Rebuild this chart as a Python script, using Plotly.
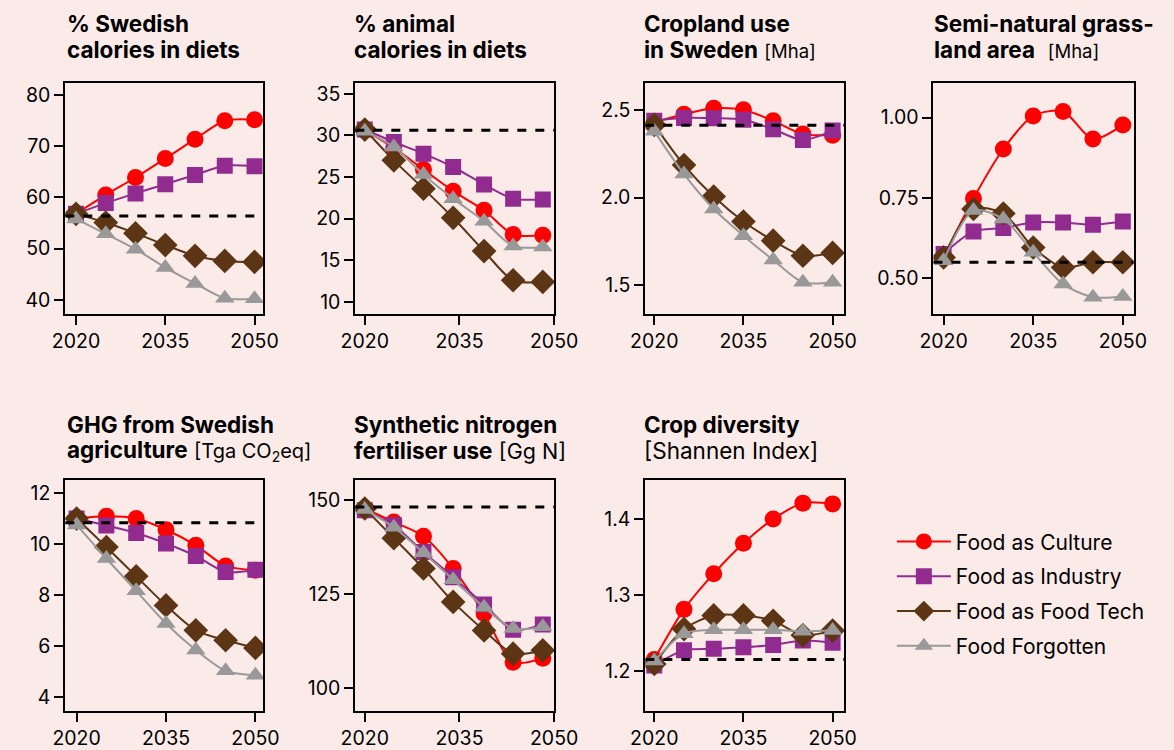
import plotly.graph_objects as go

W, H = 1174, 750
BG = "#FBEBE8"

YEARS = [2020, 2025, 2030, 2035, 2040, 2045, 2050]
YEARS_COL2 = [2020, 2024.6, 2029.3, 2034.0, 2038.9, 2043.5, 2048.2]

SCENARIOS = ["Food as Culture", "Food as Industry", "Food as Food Tech", "Food Forgotten"]
COLORS = ["#FF0000", "#922B8F", "#5C3515", "#999999"]
SYMBOLS = ["circle", "square", "diamond", "triangle-up"]
SIZES = [17, 16, 19, 17]

# % Swedish calories in diets
swedish_culture = [56.8, 60.5, 63.9, 67.6, 71.4, 75.0, 75.2]
swedish_industry = [56.8, 58.9, 60.8, 62.6, 64.4, 66.2, 66.1]
swedish_tech = [56.8, 55.1, 53.0, 50.7, 48.6, 47.6, 47.4]
swedish_forgotten = [55.8, 52.9, 49.9, 46.3, 43.2, 40.3, 40.2]
swedish_base = 56.4

# % animal calories in diets
animal_culture = [30.6, 28.5, 25.9, 23.3, 21.0, 18.1, 18.0]
animal_industry = [30.7, 29.2, 27.8, 26.2, 24.1, 22.4, 22.3]
animal_tech = [30.7, 27.0, 23.6, 20.1, 16.1, 12.6, 12.4]
animal_forgotten = [30.5, 28.6, 25.3, 22.4, 19.7, 16.7, 16.6]
animal_base = 30.6

# Cropland use in Sweden [Mha]
cropland_culture = [2.43, 2.477, 2.511, 2.502, 2.439, 2.363, 2.357]
cropland_industry = [2.44, 2.455, 2.454, 2.445, 2.391, 2.329, 2.384]
cropland_tech = [2.416, 2.186, 2.006, 1.863, 1.753, 1.667, 1.683]
cropland_forgotten = [2.38, 2.134, 1.934, 1.782, 1.643, 1.515, 1.515]
cropland_base = 2.414

# Semi-natural grassland area [Mha]
grass_culture = [0.565, 0.748, 0.902, 1.005, 1.019, 0.933, 0.977]
grass_industry = [0.575, 0.645, 0.656, 0.673, 0.673, 0.666, 0.676]
grass_tech = [0.564, 0.715, 0.701, 0.595, 0.533, 0.549, 0.549]
grass_forgotten = [0.554, 0.710, 0.684, 0.580, 0.481, 0.440, 0.442]
grass_base = 0.549

# GHG from Swedish agriculture [Tga CO2eq]
ghg_culture = [11.0, 11.09, 11.0, 10.56, 9.95, 9.14, 8.97]
ghg_industry = [11.0, 10.73, 10.43, 10.02, 9.53, 8.90, 8.99]
ghg_tech = [11.0, 9.88, 8.73, 7.59, 6.61, 6.22, 5.92]
ghg_forgotten = [10.75, 9.43, 8.16, 6.88, 5.84, 5.02, 4.85]
ghg_base = 10.84

# Synthetic nitrogen fertiliser use [Gg N]
nitro_culture = [147.8, 144.2, 140.4, 131.8, 119.8, 106.8, 107.9]
nitro_industry = [147.3, 143.3, 136.2, 129.5, 122.2, 115.5, 116.9]
nitro_tech = [147.8, 139.9, 131.8, 122.9, 115.3, 109.1, 110.0]
nitro_forgotten = [147.5, 142.8, 136.0, 128.8, 121.5, 115.8, 116.3]
nitro_base = 148.2

# Crop diversity [Shannen Index]
div_culture = [1.215, 1.281, 1.328, 1.368, 1.400, 1.421, 1.420]
div_industry = [1.207, 1.227, 1.229, 1.231, 1.234, 1.240, 1.237]
div_tech = [1.209, 1.255, 1.273, 1.273, 1.266, 1.247, 1.253]
div_forgotten = [1.213, 1.249, 1.254, 1.254, 1.254, 1.252, 1.253]
div_base = 1.215

X_TICKS = [2020, 2035, 2050]

panels = [
    dict(x=YEARS, series=[swedish_culture, swedish_industry, swedish_tech, swedish_forgotten],
         base=swedish_base, yr=[37.3, 82.4], xr=[2018.2, 2051.5], yt=[40, 50, 60, 70, 80], fmt="d",
         col=0, row=0, t1="<b>% Swedish</b>", t2="<b>calories in diets</b>"),
    dict(x=YEARS_COL2, series=[animal_culture, animal_industry, animal_tech, animal_forgotten],
         base=animal_base, yr=[8.6, 36.3], xr=[2018.5, 2050.05], yt=[10, 15, 20, 25, 30, 35], fmt="d",
         col=1, row=0, t1="<b>% animal</b>", t2="<b>calories in diets</b>"),
    dict(x=YEARS, series=[cropland_culture, cropland_industry, cropland_tech, cropland_forgotten],
         base=cropland_base, yr=[1.336, 2.656], xr=[2018.5, 2052.0], yt=[1.5, 2.0, 2.5], fmt=".1f",
         col=2, row=0, t1="<b>Cropland use</b>",
         t2="<b>in Sweden</b> <span style='font-size:18.5px'>[Mha]</span>"),
    dict(x=YEARS, series=[grass_culture, grass_industry, grass_tech, grass_forgotten],
         base=grass_base, yr=[0.389, 1.108], xr=[2018.3, 2051.8], yt=[0.5, 0.75, 1.0], fmt=".2f",
         col=3, row=0, t1="<b>Semi-natural grass-</b>",
         t2="<b>land area</b>  <span style='font-size:18.5px'>[Mha]</span>"),
    dict(x=YEARS, series=[ghg_culture, ghg_industry, ghg_tech, ghg_forgotten],
         base=ghg_base, yr=[3.44, 12.5], xr=[2018.1, 2051.35], yt=[4, 6, 8, 10, 12], fmt="d",
         col=0, row=1, t1="<b>GHG from Swedish</b>",
         t2="<b>agriculture</b> <span style='font-size:20px'>[Tga CO<sub>2</sub>eq]</span>"),
    dict(x=YEARS_COL2, series=[nitro_culture, nitro_industry, nitro_tech, nitro_forgotten],
         base=nitro_base, yr=[93.8, 155.3], xr=[2018.5, 2050.05], yt=[100, 125, 150], fmt="d",
         col=1, row=1, t1="<b>Synthetic nitrogen</b>",
         t2="<b>fertiliser use</b> <span style='font-size:21.5px'>[Gg N]</span>"),
    dict(x=YEARS, series=[div_culture, div_industry, div_tech, div_forgotten],
         base=div_base, yr=[1.147, 1.451], xr=[2018.5, 2052.0], yt=[1.2, 1.3, 1.4], fmt=".1f",
         col=2, row=1, t1="<b>Crop diversity</b>", t2="[Shannen Index]"),
]

COL_PX = [(52, 257), (352, 558), (652, 858), (950, 1157)]
ROW_PX = [(82, 313), (480, 711)]
TITLE_PX = [(23, 48.5), (424.5, 450)]
TITLE_X = [52, 349, 649, 949]

fig = go.Figure()
FONT = "Inter, Liberation Sans, Arial, sans-serif"

for i, p in enumerate(panels):
    n = i + 1
    xa = "x" if n == 1 else f"x{n}"
    ya = "y" if n == 1 else f"y{n}"
    x0, x1 = COL_PX[p["col"]]
    y0, y1 = ROW_PX[p["row"]]
    common = dict(showline=True, linewidth=2, linecolor="black", mirror=True,
                  ticks="outside", ticklen=9, tickwidth=2, tickcolor="black",
                  showgrid=False, zeroline=False,
                  tickfont=dict(size=19.5, color="black", family=FONT))
    fig.layout[f"xaxis{'' if n == 1 else n}"] = dict(
        domain=[x0 / W, x1 / W], anchor=ya, range=p["xr"], tickvals=X_TICKS, **common)
    fig.layout[f"yaxis{'' if n == 1 else n}"] = dict(
        domain=[1 - y1 / H, 1 - y0 / H], anchor=xa, range=p["yr"], tickvals=p["yt"],
        tickformat=p["fmt"], **common)
    for k, vals in enumerate(p["series"]):
        fig.add_trace(go.Scatter(
            x=p["x"], y=vals, xaxis=xa, yaxis=ya, mode="lines+markers",
            name=SCENARIOS[k], legendgroup=SCENARIOS[k], showlegend=(i == 0),
            line=dict(color=COLORS[k], width=2, shape="spline", smoothing=0.8),
            marker=dict(symbol=SYMBOLS[k], size=SIZES[k], color=COLORS[k], line=dict(width=0)),
        ))
    fig.add_shape(type="line", xref=f"{xa} domain", yref=ya, x0=0, x1=1,
                  y0=p["base"], y1=p["base"], line=dict(color="black", width=3, dash="dash"),
                  layer="above")
    ty1, ty2 = TITLE_PX[p["row"]]
    tx = TITLE_X[p["col"]]
    for txt, ty in ((p["t1"], ty1), (p["t2"], ty2)):
        fig.add_annotation(xref="paper", yref="paper", x=tx / W, y=1 - ty / H,
                           xanchor="left", yanchor="middle", text=txt, showarrow=False,
                           font=dict(size=22.5, color="black", family=FONT))

fig.update_layout(
    width=W, height=H, margin=dict(l=0, r=0, t=0, b=0),
    paper_bgcolor=BG, plot_bgcolor=BG,
    font=dict(family=FONT, color="black"),
    legend=dict(x=907 / W, y=1 - 521 / H, xanchor="left", yanchor="top",
                font=dict(size=21, color="black", family=FONT),
                bgcolor="rgba(0,0,0,0)", tracegroupgap=4.5, itemwidth=54),
)

fig.write_html("out.html", config={"displayModeBar": False},
               post_script="document.body.style.margin='0';document.body.style.padding='0';")
